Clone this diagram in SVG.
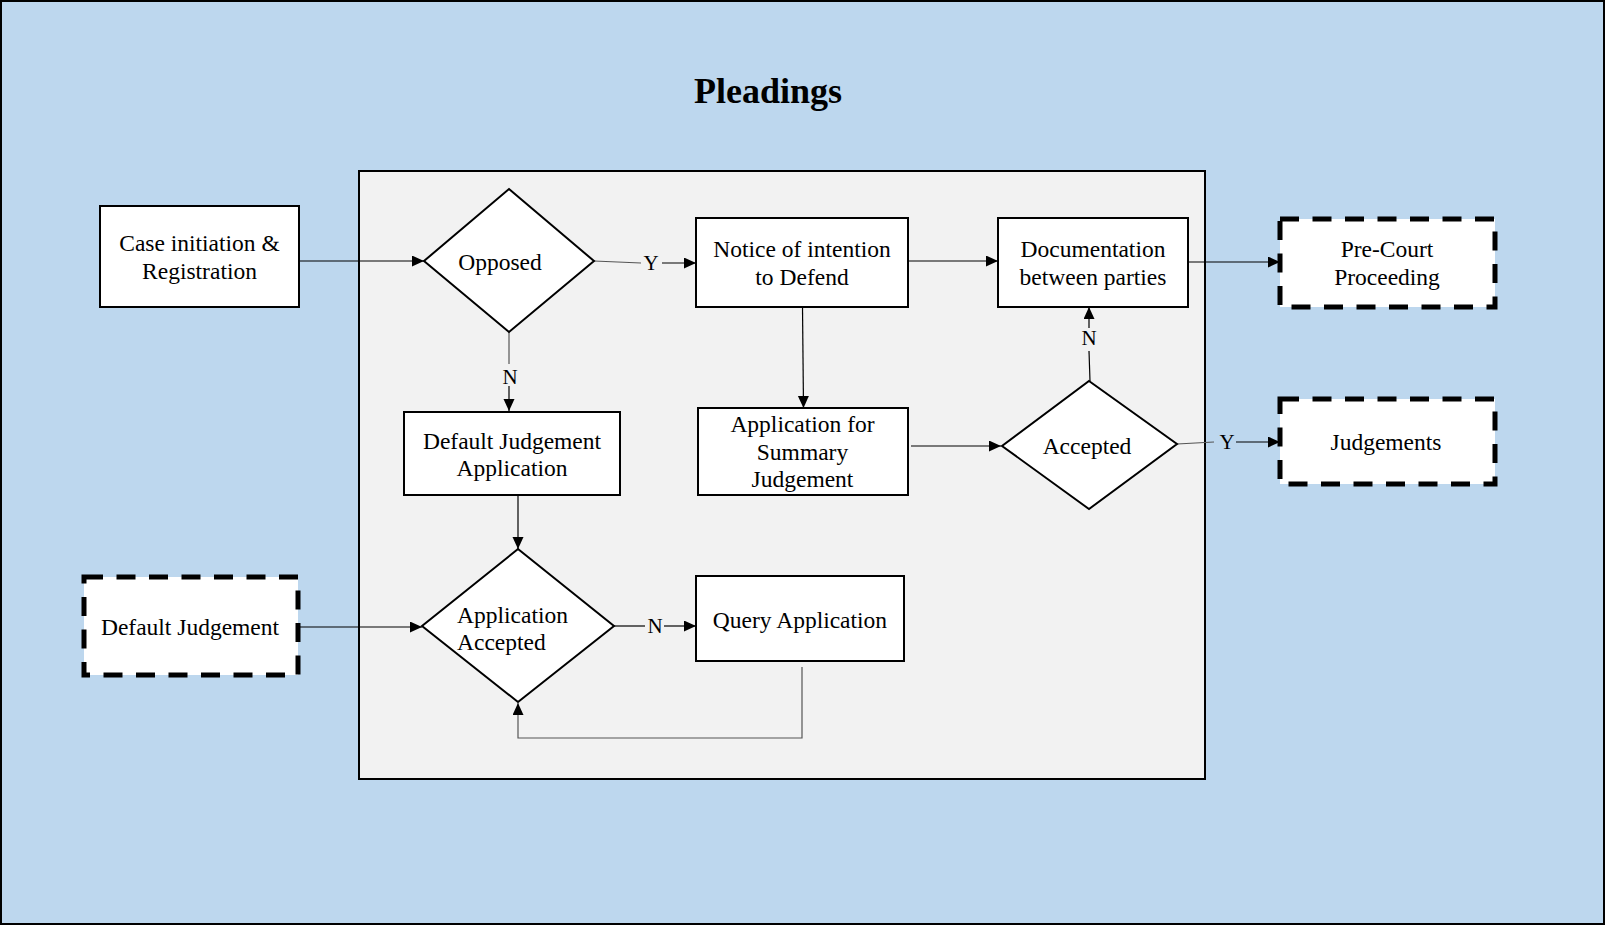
<svg xmlns="http://www.w3.org/2000/svg" width="1605" height="925" viewBox="0 0 1605 925">
<style>
.box{fill:#fff;stroke:#000;stroke-width:2}
.dash{fill:#fff;stroke:#000;stroke-width:5;stroke-dasharray:19 13.5}
.t{font-family:"Liberation Serif",serif;font-size:23.5px;fill:#000;text-anchor:middle}
.ts{font-family:"Liberation Serif",serif;font-size:23.5px;fill:#000;text-anchor:start}
.lbl{font-family:"Liberation Serif",serif;font-size:21px;fill:#000;text-anchor:middle}
.c{fill:none;stroke:#000;stroke-width:1.2}
.g{fill:none;stroke:#555;stroke-width:1.2}
</style>
<defs>
<marker id="ah" markerUnits="userSpaceOnUse" markerWidth="14" markerHeight="12" refX="12" refY="5.5" orient="auto"><path d="M0,0 L12,5.5 L0,11 z" fill="#000"/></marker>
</defs>
<rect x="1" y="1" width="1603" height="923" fill="#BDD7EE" stroke="#000" stroke-width="2"/>
<text x="768" y="103" font-family="Liberation Serif,serif" font-size="36" font-weight="bold" text-anchor="middle">Pleadings</text>
<rect x="359" y="171" width="846" height="608" fill="#F2F2F2" stroke="#000" stroke-width="2"/>

<g id="connectors">
<path class="c" d="M299,261 H424" marker-end="url(#ah)"/>
<path class="g" d="M594,261 L641,263"/>
<text class="lbl" x="651" y="270">Y</text>
<path class="c" d="M662,263 H696" marker-end="url(#ah)"/>
<path class="g" d="M509,332 V364"/>
<text class="lbl" x="510" y="384">N</text>
<path class="c" d="M509,386 V411" marker-end="url(#ah)"/>
<path class="c" d="M908,261 H998" marker-end="url(#ah)"/>
<path class="c" d="M802.5,307 L803.5,408" marker-end="url(#ah)"/>
<path class="c" d="M911,446 H1001" marker-end="url(#ah)"/>
<path class="c" d="M1090,381 L1089,351"/>
<text class="lbl" x="1089" y="345">N</text>
<path class="c" d="M1089,328 V307" marker-end="url(#ah)"/>
<path class="c" d="M1188,262 H1280" marker-end="url(#ah)"/>
<path class="g" d="M1177,444 L1214,442"/>
<text class="lbl" x="1227" y="449">Y</text>
<path class="c" d="M1236,442 H1280" marker-end="url(#ah)"/>
<path class="c" d="M518,495 V549" marker-end="url(#ah)"/>
<path class="c" d="M298,627 H422" marker-end="url(#ah)"/>
<path class="c" d="M614,626 H645"/>
<text class="lbl" x="655" y="633">N</text>
<path class="c" d="M664,626 H696" marker-end="url(#ah)"/>
<path class="g" d="M802,667 V738 H518 V703" marker-end="url(#ah)"/>
</g>

<g id="case-initiation">
<rect class="box" x="100" y="206" width="199" height="101"/>
<text class="t" x="199.5" y="251">Case initiation &amp;</text>
<text class="t" x="199.5" y="279">Registration</text>
</g>
<g id="opposed">
<polygon class="box" points="509,189 594,261 509,332 424,261"/>
<text class="t" x="500" y="270">Opposed</text>
</g>
<g id="notice">
<rect class="box" x="696" y="218" width="212" height="89"/>
<text class="t" x="802" y="257">Notice of intention</text>
<text class="t" x="802" y="285">to Defend</text>
</g>
<g id="documentation">
<rect class="box" x="998" y="218" width="190" height="89"/>
<text class="t" x="1093" y="257">Documentation</text>
<text class="t" x="1093" y="285">between parties</text>
</g>
<g id="pre-court">
<rect class="dash" x="1280" y="219" width="215" height="88"/>
<text class="t" x="1387" y="257">Pre-Court</text>
<text class="t" x="1387" y="285">Proceeding</text>
</g>
<g id="default-judgement-application">
<rect class="box" x="404" y="412" width="216" height="83"/>
<text class="t" x="512" y="449">Default Judgement</text>
<text class="t" x="512" y="476">Application</text>
</g>
<g id="summary-judgement">
<rect class="box" x="698" y="408" width="210" height="87"/>
<text class="t" x="802.5" y="432">Application for</text>
<text class="t" x="802.5" y="460">Summary</text>
<text class="t" x="802.5" y="487">Judgement</text>
</g>
<g id="accepted">
<polygon class="box" points="1089,381 1177,444 1089,509 1002,446"/>
<text class="t" x="1087" y="454">Accepted</text>
</g>
<g id="judgements">
<rect class="dash" x="1280" y="399" width="215" height="85"/>
<text class="t" x="1386" y="450">Judgements</text>
</g>
<g id="default-judgement">
<rect class="dash" x="84" y="577" width="214" height="98"/>
<text class="t" x="190" y="635">Default Judgement</text>
</g>
<g id="application-accepted">
<polygon class="box" points="518,549 614,626 518,702 422,626"/>
<text class="ts" x="457" y="623">Application</text>
<text class="ts" x="457" y="650">Accepted</text>
</g>
<g id="query-application">
<rect class="box" x="696" y="576" width="208" height="85"/>
<text class="t" x="800" y="628">Query Application</text>
</g>
</svg>
